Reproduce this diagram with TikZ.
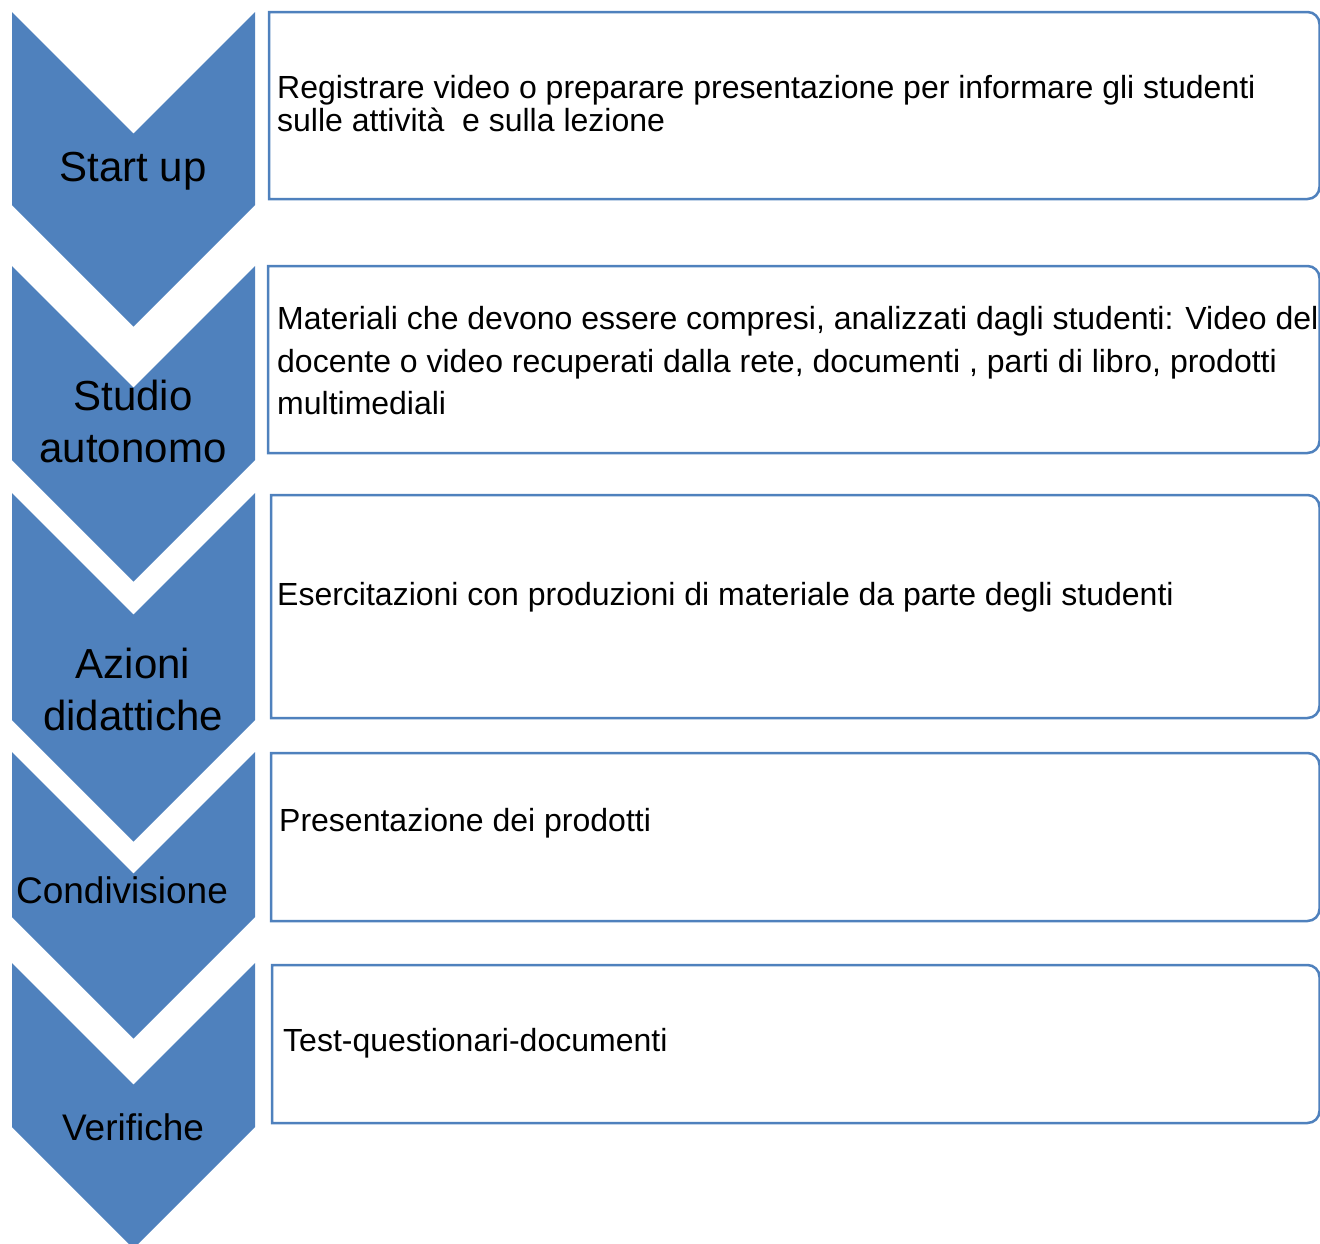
\documentclass[tikz,border=0pt]{standalone}
\usepackage{fontspec}
\setmainfont{Liberation Sans}
\usepackage{tikz}
\definecolor{chevblue}{HTML}{4F81BD}
% chevron: top corners at #1, side bottoms at #2
\newcommand{\chev}[2]{(12,#1) -- (133.5,{#1+121.5}) -- (255,#1) -- (255,#2) -- (133.5,{#2+121.5}) -- (12,#2) -- cycle}
% box: left side square, right side rounded
\newcommand{\stepbox}[3]{(#1,#2) [rounded corners=12] -- (1319.5,#2) -- (1319.5,#3) [sharp corners] -- (#1,#3) -- cycle}
\tikzset{
  chevfill/.style={fill=chevblue},
  boxline/.style={draw=chevblue,line width=2.5pt,fill=white},
  chevlabel/.style={align=center,font=\fontsize{42}{52}\selectfont},
  chevsmall/.style={align=center,font=\fontsize{37}{44}\selectfont},
  boxtext/.style={anchor=west,align=left,inner sep=0pt,font=\fontsize{32}{33}\selectfont}
}
\begin{document}
\begin{tikzpicture}[x=1pt,y=-1pt]
    \useasboundingbox (0,0) rectangle (1320,1243);
    \fill[chevfill] \chev{12}{205};
    \fill[chevfill] \chev{266}{460};
    \fill[chevfill] \chev{493}{720};
    \fill[chevfill] \chev{752}{917};
    \fill[chevfill] \chev{963}{1127};
    \node[chevlabel] (startup) at (133,171) {Start up};
    \node[chevlabel] (studio) at (133,421) {Studio\\autonomo};
    \node[chevlabel] (azioni) at (133,689) {Azioni\\didattiche};
    \node[chevsmall] (condiv) at (122,890) {Condivisione};
    \node[chevsmall] (verif) at (133,1127) {Verifiche};

    \draw[boxline] \stepbox{269}{12}{199};
    \draw[boxline] \stepbox{268}{266}{453};
    \draw[boxline] \stepbox{271}{495}{718};
    \draw[boxline] \stepbox{271}{753}{921};
    \draw[boxline] \stepbox{272}{965}{1123};
    \node[boxtext] (registra) at (277,104) {Registrare video o preparare presentazione per informare gli studenti\\sulle attivit\`a\ \ e sulla lezione};
    \node[boxtext,font=\fontsize{32}{42.5}\selectfont] (materiali) at (277,361) {Materiali che devono essere compresi, analizzati dagli studenti: Video del\\docente o video recuperati dalla rete, documenti , parti di libro, prodotti\\multimediali};
    \node[boxtext] (esercita) at (277,597) {Esercitazioni con produzioni di materiale da parte degli studenti};
    \node[boxtext] (presenta) at (279,823) {Presentazione dei prodotti};
    \node[boxtext] (test) at (283,1043) {Test-questionari-documenti};
\end{tikzpicture}
\end{document}
